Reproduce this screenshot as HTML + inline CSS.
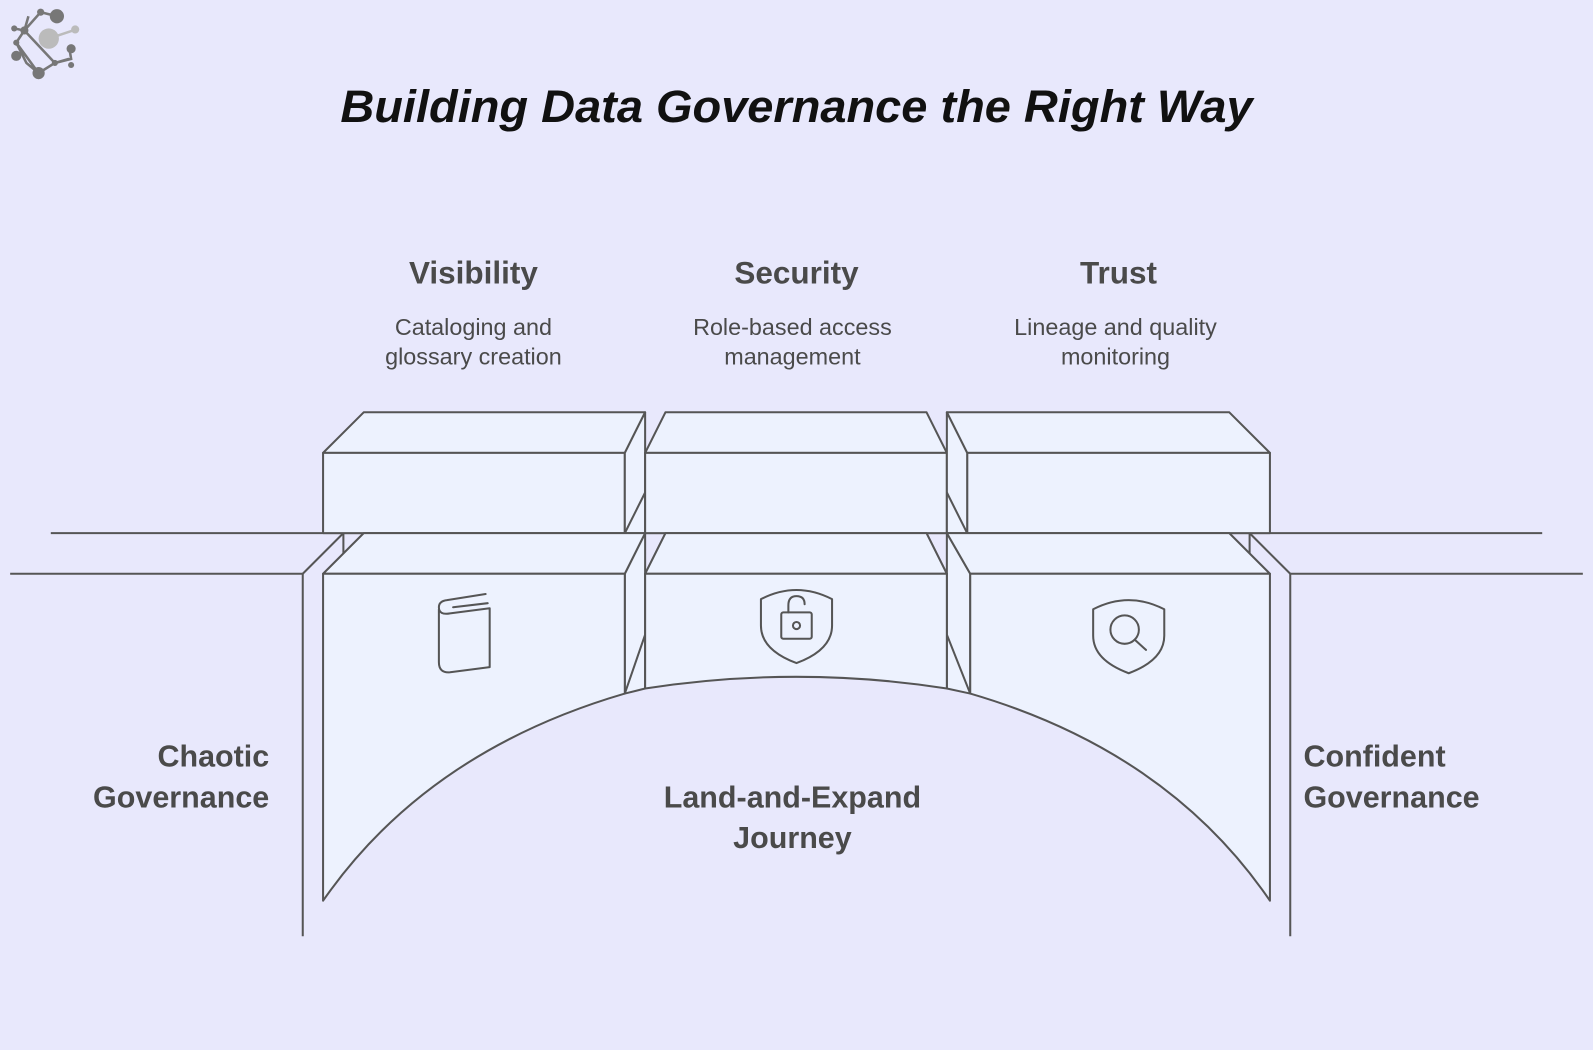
<!DOCTYPE html>
<html><head><meta charset="utf-8"><style>
html,body{margin:0;padding:0;background:#e8e8fc;}
svg{display:block;}
</style></head><body>
<svg width="1593" height="1050" viewBox="0 0 1568 1034" preserveAspectRatio="none" xmlns="http://www.w3.org/2000/svg">
<rect width="1568" height="1034" fill="#e8e8fc"/>
<!-- logo -->
<g>
<g stroke="#777" stroke-width="2.5" fill="none">
<path d="M14,28 L24,30 L40,12 L56,16 M24,30 L16,42 L38,72 L54,62 L70,58 L68,46 M24,30 L28,16 M16,42 L26,62 L38,72 M54,62 L68,58 M24,30 L54,62"/>
<path d="M48,38 L72,30" stroke="#bbb"/>
</g>
<circle cx="56" cy="16" r="7" fill="#777"/><circle cx="40" cy="12" r="3.5" fill="#777"/>
<circle cx="24" cy="30" r="4" fill="#777"/><circle cx="14" cy="28" r="3" fill="#777"/>
<circle cx="16" cy="42" r="3" fill="#777"/><circle cx="16" cy="55" r="5" fill="#777"/>
<circle cx="38" cy="72" r="6" fill="#777"/><circle cx="54" cy="62" r="3" fill="#777"/>
<circle cx="70" cy="48" r="4.5" fill="#777"/><circle cx="70" cy="64" r="3" fill="#777"/>
<circle cx="48" cy="38" r="10" fill="#bbb"/><circle cx="74" cy="29" r="4" fill="#bbb"/>
</g>
<text x="335" y="120" textLength="898" lengthAdjust="spacingAndGlyphs" font-family="Liberation Sans, sans-serif" font-weight="bold" font-style="italic" font-size="45" fill="#111">Building Data Governance the Right Way</text>

<g font-family="Liberation Sans, sans-serif" fill="#4a4a4a" text-anchor="middle">
<text x="466" y="279" font-size="31" font-weight="bold">Visibility</text>
<text x="466" y="330" font-size="23">Cataloging and</text>
<text x="466" y="359" font-size="23">glossary creation</text>
<text x="784" y="279" font-size="31" font-weight="bold">Security</text>
<text x="780" y="330" font-size="23">Role-based access</text>
<text x="780" y="359" font-size="23">management</text>
<text x="1101" y="279" font-size="31" font-weight="bold">Trust</text>
<text x="1098" y="330" font-size="23">Lineage and quality</text>
<text x="1098" y="359" font-size="23">monitoring</text>
<text x="265" y="755" font-size="30" font-weight="bold" text-anchor="end">Chaotic</text>
<text x="265" y="795" font-size="30" font-weight="bold" text-anchor="end">Governance</text>
<text x="1283" y="755" font-size="30" font-weight="bold" text-anchor="start">Confident</text>
<text x="1283" y="795" font-size="30" font-weight="bold" text-anchor="start">Governance</text>
<text x="780" y="795" font-size="30" font-weight="bold">Land-and-Expand</text>
<text x="780" y="835" font-size="30" font-weight="bold">Journey</text>
</g>

<g stroke="#555" stroke-width="2" fill="#edf2fe" stroke-linejoin="round">
<line x1="50" y1="525" x2="1518" y2="525" fill="none"/>
<line x1="10" y1="565" x2="298" y2="565"/>
<line x1="1270" y1="565" x2="1558" y2="565"/>
<line x1="298" y1="565" x2="298" y2="922"/>
<line x1="298" y1="565" x2="338" y2="525"/>
<line x1="338" y1="525" x2="338" y2="545"/>
<line x1="1270" y1="565" x2="1270" y2="922"/>
<line x1="1230" y1="525" x2="1270" y2="565"/>
<line x1="1230" y1="525" x2="1230" y2="545"/>

<polygon points="318,446 358,406 635,406 615,446"/>
<rect x="318" y="446" width="297" height="79"/>
<polygon points="615,446 635,406 635,525 615,525" />
<line x1="615" y1="525" x2="635" y2="485"/>
<polygon points="635,446 655,406 912,406 932,446"/>
<rect x="635" y="446" width="297" height="79"/>
<polygon points="952,446 932,406 1210,406 1250,446"/>
<rect x="952" y="446" width="298" height="79"/>
<polygon points="932,406 952,446 952,525 932,525"/>
<line x1="932" y1="485" x2="952" y2="525"/>

<path d="M635,525 L635,678 L615,683 L615,565 Z"/>
<line x1="615" y1="683" x2="635" y2="625"/>
<path d="M932,525 L932,678 L955,683 L955,565 Z"/>
<line x1="932" y1="625" x2="955" y2="683"/>
<polygon points="318,565 358,525 635,525 615,565"/>
<path d="M318,565 L615,565 L615,683 Q420,740 318,887 Z"/>
<polygon points="635,565 655,525 912,525 932,565"/>
<path d="M635,565 L932,565 L932,678 Q784,655 635,678 Z"/>
<polygon points="955,565 932,525 1210,525 1250,565"/>
<path d="M955,565 L1250,565 L1250,887 Q1150,740 955,683 Z"/>
</g>

<g stroke="#555" stroke-width="2" fill="none" stroke-linecap="round" stroke-linejoin="round">
<path d="M432,600 L432,652 Q432,663 443,662 L482,657 L482,599 L443,604 Q432,606 432,598 Q432,592 440,591 L478,585"/>
<path d="M446,598 L480,594"/>
<path d="M749,590 Q784,572 819,590 L819,616 Q819,640 784,653 Q749,640 749,616 Z"/>
<rect x="769" y="603" width="30" height="26" rx="2"/>
<path d="M776,603 L776,596 Q776,587 784,587 Q792,587 792,595"/>
<circle cx="784" cy="616" r="3.5"/>
<path d="M1076,600 Q1111,582 1146,600 L1146,626 Q1146,650 1111,663 Q1076,650 1076,626 Z"/>
<circle cx="1107" cy="620" r="14"/>
<line x1="1117" y1="630" x2="1128" y2="640"/>
</g>
</svg>
</body></html>
